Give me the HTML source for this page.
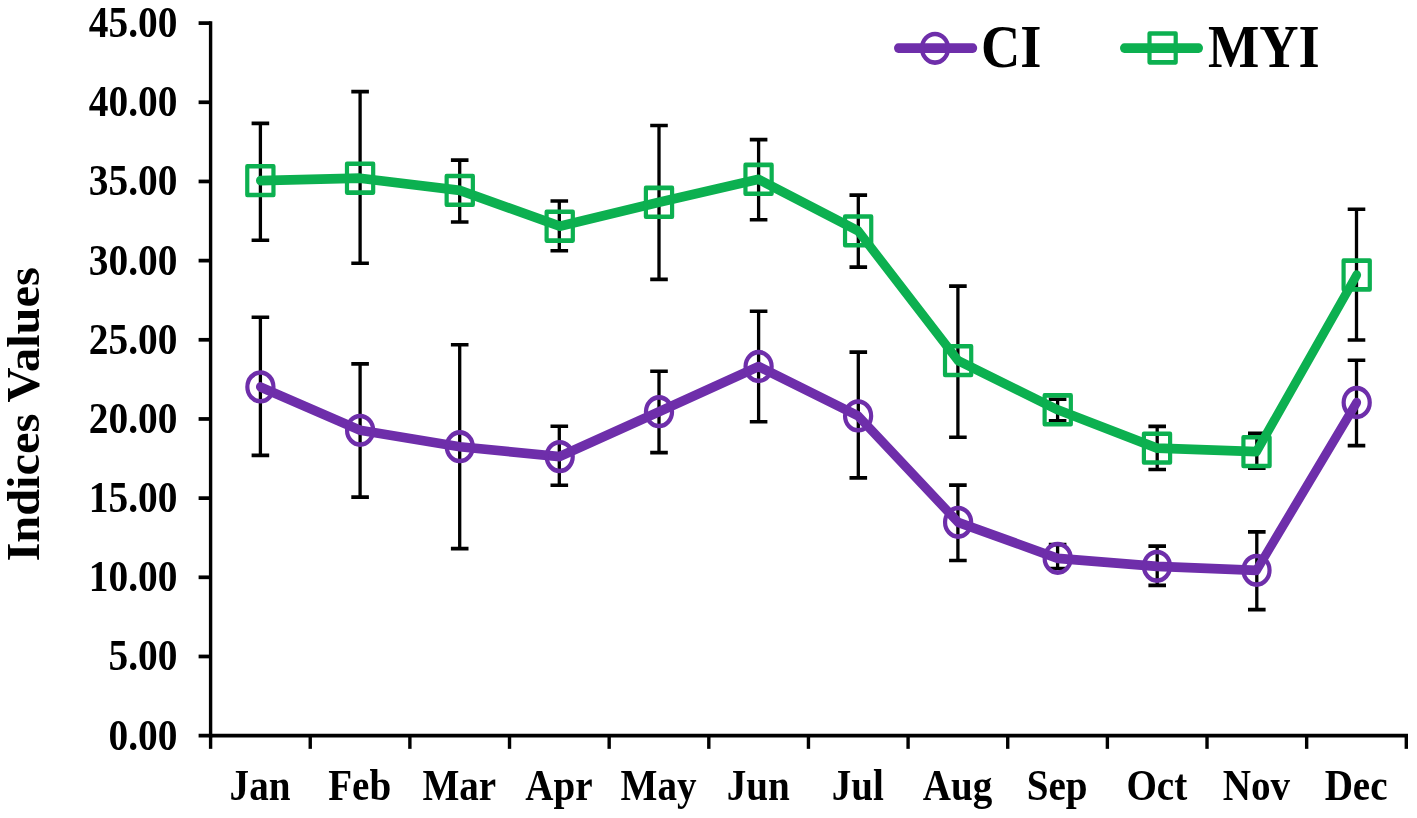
<!DOCTYPE html>
<html lang="en"><head><meta charset="utf-8"><title>Indices Values</title>
<style>html,body{margin:0;padding:0;background:#fff;}body{width:1417px;height:818px;overflow:hidden;}svg{display:block;filter:blur(0.45px);}text{font-family:"Liberation Serif","Times New Roman",serif;font-weight:bold;fill:#000;}</style>
</head><body>
<svg width="1417" height="818" viewBox="0 0 1417 818">
<rect x="0" y="0" width="1417" height="818" fill="#fff"/>
<g transform="scale(1,1.1)">
<g stroke="#000" stroke-width="3.4" fill="none" stroke-linecap="butt">
<line x1="210.6" y1="19.30" x2="210.6" y2="670.47"/>
<line x1="198.6" y1="668.77" x2="1408.0" y2="668.77"/>
<line x1="198.6" y1="596.80" x2="210.6" y2="596.80"/>
<line x1="198.6" y1="524.82" x2="210.6" y2="524.82"/>
<line x1="198.6" y1="452.85" x2="210.6" y2="452.85"/>
<line x1="198.6" y1="380.87" x2="210.6" y2="380.87"/>
<line x1="198.6" y1="308.90" x2="210.6" y2="308.90"/>
<line x1="198.6" y1="236.92" x2="210.6" y2="236.92"/>
<line x1="198.6" y1="164.95" x2="210.6" y2="164.95"/>
<line x1="198.6" y1="92.97" x2="210.6" y2="92.97"/>
<line x1="198.6" y1="21.00" x2="210.6" y2="21.00"/>
<line x1="210.60" y1="668.77" x2="210.60" y2="680.77"/>
<line x1="310.24" y1="668.77" x2="310.24" y2="680.77"/>
<line x1="409.88" y1="668.77" x2="409.88" y2="680.77"/>
<line x1="509.52" y1="668.77" x2="509.52" y2="680.77"/>
<line x1="609.17" y1="668.77" x2="609.17" y2="680.77"/>
<line x1="708.81" y1="668.77" x2="708.81" y2="680.77"/>
<line x1="808.45" y1="668.77" x2="808.45" y2="680.77"/>
<line x1="908.09" y1="668.77" x2="908.09" y2="680.77"/>
<line x1="1007.73" y1="668.77" x2="1007.73" y2="680.77"/>
<line x1="1107.38" y1="668.77" x2="1107.38" y2="680.77"/>
<line x1="1207.02" y1="668.77" x2="1207.02" y2="680.77"/>
<line x1="1306.66" y1="668.77" x2="1306.66" y2="680.77"/>
<line x1="1406.30" y1="668.77" x2="1406.30" y2="680.77"/>
</g>
<g font-size="39.4" text-anchor="end">
<text x="177.4" y="681.41">0.00</text>
<text x="177.4" y="609.43">5.00</text>
<text x="177.4" y="537.46">10.00</text>
<text x="177.4" y="465.48">15.00</text>
<text x="177.4" y="393.51">20.00</text>
<text x="177.4" y="321.54">25.00</text>
<text x="177.4" y="249.56">30.00</text>
<text x="177.4" y="177.59">35.00</text>
<text x="177.4" y="105.61">40.00</text>
<text x="177.4" y="33.64">45.00</text>
</g>
<g font-size="39.1" text-anchor="middle">
<text transform="translate(260.02,727.09) scale(1,1.035)">Jan</text>
<text transform="translate(359.66,727.09) scale(1,1.035)">Feb</text>
<text transform="translate(459.30,727.09) scale(1,1.035)">Mar</text>
<text transform="translate(558.95,727.09) scale(1,1.035)">Apr</text>
<text transform="translate(658.59,727.09) scale(1,1.035)">May</text>
<text transform="translate(758.23,727.09) scale(1,1.035)">Jun</text>
<text transform="translate(857.87,727.09) scale(1,1.035)">Jul</text>
<text transform="translate(957.51,727.09) scale(1,1.035)">Aug</text>
<text transform="translate(1057.15,727.09) scale(1,1.035)">Sep</text>
<text transform="translate(1156.80,727.09) scale(1,1.035)">Oct</text>
<text transform="translate(1256.44,727.09) scale(1,1.035)">Nov</text>
<text transform="translate(1356.08,727.09) scale(1,1.035)">Dec</text>
</g>
<g stroke="#000" stroke-width="3.3" fill="none">
<path d="M251.6 288.36H269.2M260.4 288.36V414.00M251.6 414.00H269.2"/>
<path d="M351.3 330.82H368.9M360.1 330.82V451.91M351.3 451.91H368.9"/>
<path d="M450.9 313.45H468.5M459.7 313.45V498.73M450.9 498.73H468.5"/>
<path d="M550.5 387.55H568.1M559.3 387.55V441.18M550.5 441.18H568.1"/>
<path d="M650.2 337.55H667.8M659.0 337.55V411.45M650.2 411.45H667.8"/>
<path d="M749.8 282.91H767.4M758.6 282.91V383.36M749.8 383.36H767.4"/>
<path d="M849.5 320.09H867.1M858.3 320.09V434.45M849.5 434.45H867.1"/>
<path d="M949.1 441.00H966.7M957.9 441.00V509.55M949.1 509.55H966.7"/>
<path d="M1048.8 495.09H1066.4M1057.6 495.09V516.82M1048.8 516.82H1066.4"/>
<path d="M1148.4 496.45H1166.0M1157.2 496.45V532.18M1148.4 532.18H1166.0"/>
<path d="M1248.0 483.55H1265.6M1256.8 483.55V554.18M1248.0 554.18H1265.6"/>
<path d="M1347.7 327.45H1365.3M1356.5 327.45V405.09M1347.7 405.09H1365.3"/>
</g>
<g stroke="#000" stroke-width="3.3" fill="none">
<path d="M251.6 112.18H269.2M260.4 112.18V218.45M251.6 218.45H269.2"/>
<path d="M351.3 83.27H368.9M360.1 83.27V239.27M351.3 239.27H368.9"/>
<path d="M450.9 145.55H468.5M459.7 145.55V201.82M450.9 201.82H468.5"/>
<path d="M550.5 182.73H568.1M559.3 182.73V228.00M550.5 228.00H568.1"/>
<path d="M650.2 114.09H667.8M659.0 114.09V254.00M650.2 254.00H667.8"/>
<path d="M749.8 126.91H767.4M758.6 126.91V199.82M749.8 199.82H767.4"/>
<path d="M849.5 177.36H867.1M858.3 177.36V242.82M849.5 242.82H867.1"/>
<path d="M949.1 260.09H966.7M957.9 260.09V397.55M949.1 397.55H966.7"/>
<path d="M1048.8 362.91H1066.4M1057.6 362.91V382.64M1048.8 382.64H1066.4"/>
<path d="M1148.4 387.64H1166.0M1157.2 387.64V426.82M1148.4 426.82H1166.0"/>
<path d="M1248.0 393.82H1265.6M1256.8 393.82V425.64M1248.0 425.64H1265.6"/>
<path d="M1347.7 190.18H1365.3M1356.5 190.18V309.09M1347.7 309.09H1365.3"/>
</g>
<polyline points="260.4,351.73 360.1,391.18 459.8,406.09 559.7,415.09 659.0,374.27 758.6,333.18 858.1,378.09 958.1,474.82 1057.7,507.55 1157.0,514.82 1256.5,518.45 1356.7,365.91" fill="none" stroke="#6E2EAA" stroke-width="8.8" stroke-linecap="round" stroke-linejoin="round"/>
<g fill="none" stroke="#6E2EAA" stroke-width="4.2">
<circle cx="260.4" cy="351.73" r="13.05"/>
<circle cx="360.1" cy="391.18" r="13.05"/>
<circle cx="459.8" cy="406.09" r="13.05"/>
<circle cx="559.7" cy="415.09" r="13.05"/>
<circle cx="659.0" cy="374.27" r="13.05"/>
<circle cx="758.6" cy="333.18" r="13.05"/>
<circle cx="858.1" cy="378.09" r="13.05"/>
<circle cx="958.1" cy="474.82" r="13.05"/>
<circle cx="1057.7" cy="507.55" r="13.05"/>
<circle cx="1157.0" cy="514.82" r="13.05"/>
<circle cx="1256.5" cy="518.45" r="13.05"/>
<circle cx="1356.7" cy="365.91" r="13.05"/>
</g>
<polyline points="260.4,164.18 360.1,162.00 459.8,173.09 559.7,205.64 659.0,183.91 758.6,163.00 858.1,209.91 958.1,327.82 1057.7,372.55 1157.0,407.36 1256.5,410.55 1356.7,250.00" fill="none" stroke="#0CB050" stroke-width="8.8" stroke-linecap="round" stroke-linejoin="round"/>
<g fill="none" stroke="#0CB050" stroke-width="4.2">
<rect x="247.26" y="151.08" width="26.2" height="26.2" stroke-linejoin="round"/>
<rect x="346.98" y="148.90" width="26.2" height="26.2" stroke-linejoin="round"/>
<rect x="446.65" y="159.99" width="26.2" height="26.2" stroke-linejoin="round"/>
<rect x="546.62" y="192.54" width="26.2" height="26.2" stroke-linejoin="round"/>
<rect x="645.89" y="170.81" width="26.2" height="26.2" stroke-linejoin="round"/>
<rect x="745.46" y="149.90" width="26.2" height="26.2" stroke-linejoin="round"/>
<rect x="845.04" y="196.81" width="26.2" height="26.2" stroke-linejoin="round"/>
<rect x="945.01" y="314.72" width="26.2" height="26.2" stroke-linejoin="round"/>
<rect x="1044.63" y="359.45" width="26.2" height="26.2" stroke-linejoin="round"/>
<rect x="1143.90" y="394.26" width="26.2" height="26.2" stroke-linejoin="round"/>
<rect x="1243.42" y="397.45" width="26.2" height="26.2" stroke-linejoin="round"/>
<rect x="1343.59" y="236.90" width="26.2" height="26.2" stroke-linejoin="round"/>
</g>
<line x1="898.4" y1="43.73" x2="972.8000000000001" y2="43.73" stroke="#6E2EAA" stroke-width="8.8" stroke-linecap="round"/>
<circle cx="935.0" cy="43.91" r="13.05" fill="none" stroke="#6E2EAA" stroke-width="4.2"/>
<text font-size="54.4" transform="translate(981.0,61.09) scale(1,1.03)">CI</text>
<line x1="1124.4" y1="43.73" x2="1198.6" y2="43.73" stroke="#0CB050" stroke-width="8.8" stroke-linecap="round"/>
<rect x="1149.50" y="30.45" width="26.2" height="26.2" fill="none" stroke="#0CB050" stroke-width="4.2" stroke-linejoin="round"/>
<text font-size="54.4" transform="translate(1207.9,61.09) scale(1,1.03)">MYI</text>
</g>
<text font-size="45" text-anchor="middle" transform="translate(39.3,414.4) rotate(-90) scale(1.075,1.017)">Indices Values</text>
</svg>
</body></html>
